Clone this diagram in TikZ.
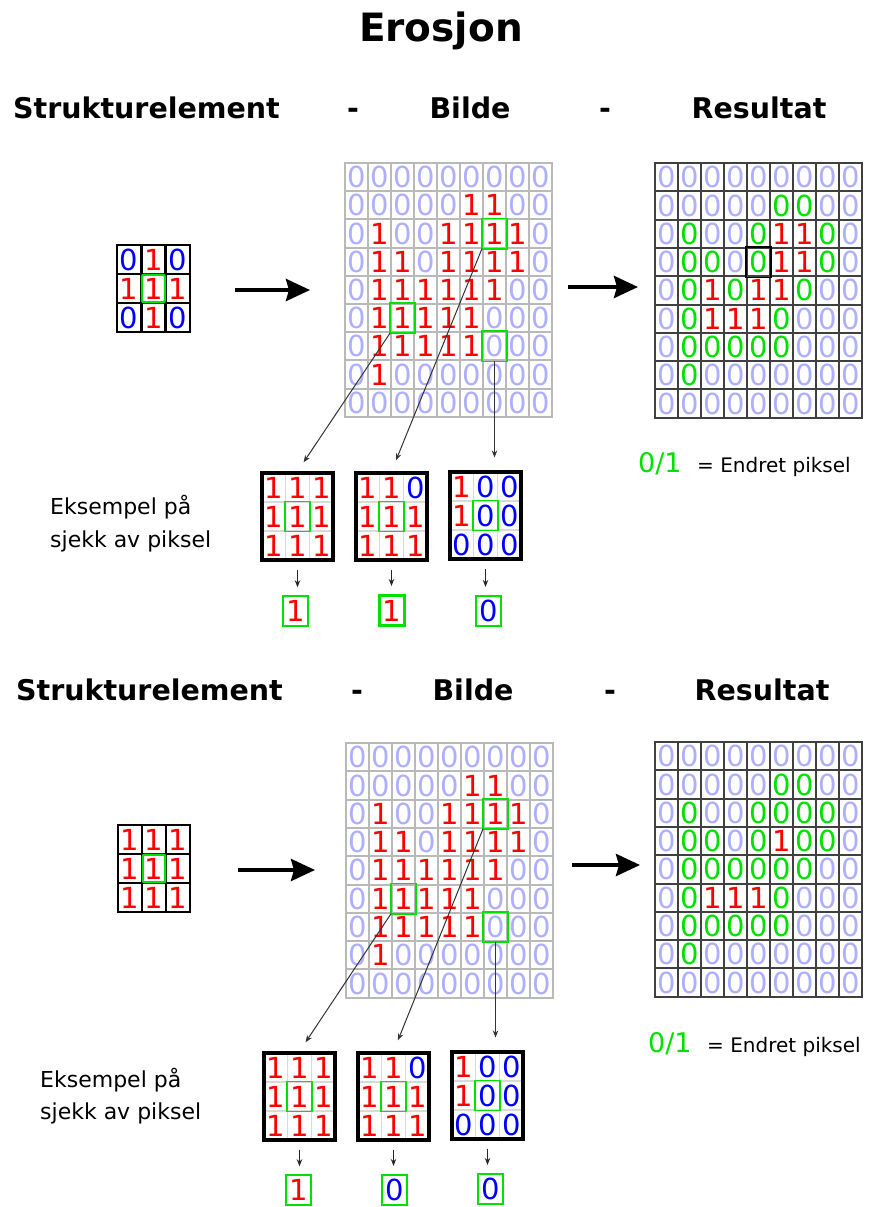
\documentclass[tikz,border=0pt]{standalone}
\usepackage{fontspec}
\setmainfont{DejaVu Sans}
\usetikzlibrary{arrows.meta}
\definecolor{lblue}{RGB}{175,175,255}
\definecolor{mygreen}{RGB}{0,225,0}
\definecolor{myred}{RGB}{255,0,0}
\definecolor{myblue}{RGB}{0,0,255}
\newcommand\mydigfont{\fontsize{29}{29}\selectfont}
\def\cvb{\color{lblue}0}
\def\cvr{\color{myred}1}
\def\cvg{\color{mygreen}0}
\def\cvB{\color{myblue}0}
% #1 name, #2 x0, #3 y0, #4 cell width, #5 cell height, #6 style, #7 data
\newcommand\mygrid[7]{%
  \foreach \rowdata [count=\i] in {#7} {
    \foreach \cc [count=\j] in \rowdata {
      \node[#6, minimum width=#4pt, minimum height=#5pt] (#1-\i-\j)
        at ({#2+(\j-0.5)*#4},{#3+(\i-0.5)*#5}) {\csname cv\cc\endcsname};
    }
  }%
}
\begin{document}
\begin{tikzpicture}[x=1pt,y=-1pt,
  imgcell/.style={draw=gray!55, line width=2pt, inner sep=0pt, font=\mydigfont},
  rescell/.style={draw=black!75, line width=2pt, inner sep=0pt, font=\mydigfont},
  secell/.style={draw=black, line width=2.6pt, inner sep=0pt, font=\mydigfont},
  excell/.style={draw=gray!30, line width=1.2pt, inner sep=0pt, font=\mydigfont},
  exframe/.style={draw=black, line width=3.2pt, inner sep=0pt, minimum width=71pt, minimum height=87pt},
  resbox/.style={draw=mygreen, line width=1.5pt, inner sep=0pt, minimum width=25pt, minimum height=30pt, font=\mydigfont},
  hl/.style={draw=mygreen, line width=1.8pt},
  ptr/.style={draw=black!80, line width=1pt, -{Stealth[length=7pt,width=5.5pt]}},
  smallarr/.style={draw=black!85, line width=1pt, -{Stealth[length=7pt,width=5.5pt]}},
  bigarr/.style={line width=4pt, -{Stealth[length=24pt,width=22pt,inset=3pt]}},
  hdr/.style={font=\fontsize{28.5}{30}\selectfont\bfseries, anchor=base, inner sep=0pt},
  lbl/.style={font=\fontsize{22}{22}\selectfont, anchor=base west, inner sep=0pt},
  leg/.style={font=\fontsize{20}{20}\selectfont, anchor=base west, inner sep=0pt},
  legnum/.style={font=\fontsize{27}{27}\selectfont, anchor=base west, inner sep=0pt, text=mygreen}
]
\fill[white] (0,0) rectangle (883,1207);
\useasboundingbox (0,0) rectangle (883,1207);

% ---------- titles ----------
\node[font=\fontsize{39}{40}\selectfont\bfseries, anchor=base, inner sep=0pt] (title) at (441,42) {Erosjon};
\node[hdr] (h1a) at (146.5,118) {Strukturelement};
\node[hdr] (h1b) at (353,118) {-};
\node[hdr] (h1c) at (470,118) {Bilde};
\node[hdr] (h1d) at (605,118) {-};
\node[hdr] (h1e) at (759,118) {Resultat};
\node[hdr] (h2a) at (149.5,700) {Strukturelement};
\node[hdr] (h2b) at (357,700) {-};
\node[hdr] (h2c) at (473,700) {Bilde};
\node[hdr] (h2d) at (610,700) {-};
\node[hdr] (h2e) at (762,700) {Resultat};

% ================= TOP PART =================
\mygrid{se1}{117}{245}{24.3}{29}{secell}{{B,r,B},{r,r,r},{B,r,B}}
\draw[mygreen, line width=2.2pt, rounded corners=2pt] ([xshift=2pt,yshift=-2pt]se1-2-2.north west) rectangle ([xshift=-2pt,yshift=2pt]se1-2-2.south east);

\mygrid{img1}{345}{163}{23}{28.2}{imgcell}{
{b,b,b,b,b,b,b,b,b},
{b,b,b,b,b,r,r,b,b},
{b,r,b,b,r,r,r,r,b},
{b,r,r,b,r,r,r,r,b},
{b,r,r,r,r,r,r,b,b},
{b,r,r,r,r,r,b,b,b},
{b,r,r,r,r,r,b,b,b},
{b,r,b,b,b,b,b,b,b},
{b,b,b,b,b,b,b,b,b}}
\draw[hl] (img1-3-7.north west) rectangle (img1-3-7.south east);
\draw[hl] (img1-6-3.north west) rectangle (img1-6-3.south east);
\draw[hl] (img1-7-7.north west) rectangle (img1-7-7.south east);

\mygrid{res1}{655}{163}{23}{28.3}{rescell}{
{b,b,b,b,b,b,b,b,b},
{b,b,b,b,b,g,g,b,b},
{b,g,b,b,g,r,r,g,b},
{b,g,g,b,g,r,r,g,b},
{b,g,r,g,r,r,g,b,b},
{b,g,r,r,r,g,b,b,b},
{b,g,g,g,g,g,b,b,b},
{b,g,b,b,b,b,b,b,b},
{b,b,b,b,b,b,b,b,b}}
\draw[black, line width=1.4pt] (res1-4-5.north west) rectangle (res1-4-5.south east);

\coordinate (a1s) at (235,290);
\coordinate (a1e) at (310,290);
\draw[bigarr] (a1s) -- (a1e);
\coordinate (a2s) at (568,287);
\coordinate (a2e) at (638,287);
\draw[bigarr] (a2s) -- (a2e);

% examples
\mygrid{ex1a-c}{262}{473}{23.7}{29}{excell}{{r,r,r},{r,r,r},{r,r,r}}
\node[exframe] (ex1a) at (297.5,516.5) {};
\draw[mygreen, line width=1.4pt] (ex1a-c-2-2.north west) rectangle (ex1a-c-2-2.south east);
\mygrid{ex1b-c}{356}{473}{23.7}{29}{excell}{{r,r,B},{r,r,r},{r,r,r}}
\node[exframe] (ex1b) at (391.5,516.5) {};
\draw[mygreen, line width=1.4pt] (ex1b-c-2-2.north west) rectangle (ex1b-c-2-2.south east);
\mygrid{ex1c-c}{450}{472}{23.7}{29}{excell}{{r,B,B},{r,B,B},{B,B,B}}
\node[exframe] (ex1c) at (485.5,515.5) {};
\draw[mygreen, line width=1.4pt] (ex1c-c-2-2.north west) rectangle (ex1c-c-2-2.south east);

\node[resbox] (r1a) at (295.5,611) {\color{myred}1};
\node[resbox, line width=3pt] (r1b) at (391.5,610.5) {\color{myred}1};
\node[resbox, line width=2.2pt] (r1c) at (488.5,611) {\color{myblue}0};
\draw[smallarr, shorten <=8pt, shorten >=8pt] (ex1a) -- (ex1a |- r1a.north);
\draw[smallarr, shorten <=8pt, shorten >=8pt] (ex1b) -- (ex1b |- r1b.north);
\draw[smallarr, shorten <=8pt, shorten >=8pt] (ex1c) -- (ex1c |- r1c.north);

\draw[ptr, shorten >=11pt] (img1-6-3.south west) -- (ex1a.north);
\draw[ptr, shorten >=12pt] (img1-3-7.south west) -- (ex1b.north);
\draw[ptr, shorten >=13pt] (img1-7-7.south) -- (img1-7-7.south |- ex1c.north);

\node[lbl] (t1a) at (50,514) {Eksempel på};
\node[lbl] (t1b) at (50,547) {sjekk av piksel};
\node[legnum] (l1a) at (638,472) {0/1};
\node[leg] (l1b) at (697,472) {= Endret piksel};

% ================= BOTTOM PART =================
\mygrid{se2}{118}{825}{24}{29}{secell}{{r,r,r},{r,r,r},{r,r,r}}
\draw[mygreen, line width=2.2pt, rounded corners=2pt] ([xshift=2pt,yshift=-2pt]se2-2-2.north west) rectangle ([xshift=-2pt,yshift=2pt]se2-2-2.south east);

\mygrid{img2}{346}{743}{23}{28.3}{imgcell}{
{b,b,b,b,b,b,b,b,b},
{b,b,b,b,b,r,r,b,b},
{b,r,b,b,r,r,r,r,b},
{b,r,r,b,r,r,r,r,b},
{b,r,r,r,r,r,r,b,b},
{b,r,r,r,r,r,b,b,b},
{b,r,r,r,r,r,b,b,b},
{b,r,b,b,b,b,b,b,b},
{b,b,b,b,b,b,b,b,b}}
\draw[hl] (img2-3-7.north west) rectangle (img2-3-7.south east);
\draw[hl] (img2-6-3.north west) rectangle (img2-6-3.south east);
\draw[hl] (img2-7-7.north west) rectangle (img2-7-7.south east);

\mygrid{res2}{655}{742}{23}{28.3}{rescell}{
{b,b,b,b,b,b,b,b,b},
{b,b,b,b,b,g,g,b,b},
{b,g,b,b,g,g,g,g,b},
{b,g,g,b,g,r,g,g,b},
{b,g,g,g,g,g,g,b,b},
{b,g,r,r,r,g,b,b,b},
{b,g,g,g,g,g,b,b,b},
{b,g,b,b,b,b,b,b,b},
{b,b,b,b,b,b,b,b,b}}

\coordinate (b1s) at (238,870);
\coordinate (b1e) at (315,870);
\draw[bigarr] (b1s) -- (b1e);
\coordinate (b2s) at (572,865);
\coordinate (b2e) at (640,865);
\draw[bigarr] (b2s) -- (b2e);

\mygrid{ex2a-c}{264}{1053}{23.7}{29}{excell}{{r,r,r},{r,r,r},{r,r,r}}
\node[exframe] (ex2a) at (299.5,1096.5) {};
\draw[mygreen, line width=1.4pt] (ex2a-c-2-2.north west) rectangle (ex2a-c-2-2.south east);
\mygrid{ex2b-c}{358}{1053}{23.7}{29}{excell}{{r,r,B},{r,r,r},{r,r,r}}
\node[exframe] (ex2b) at (393.5,1096.5) {};
\draw[mygreen, line width=1.4pt] (ex2b-c-2-2.north west) rectangle (ex2b-c-2-2.south east);
\mygrid{ex2c-c}{452}{1052}{23.7}{29}{excell}{{r,B,B},{r,B,B},{B,B,B}}
\node[exframe] (ex2c) at (487.5,1095.5) {};
\draw[mygreen, line width=1.4pt] (ex2c-c-2-2.north west) rectangle (ex2c-c-2-2.south east);

\node[resbox] (r2a) at (298.5,1190) {\color{myred}1};
\node[resbox, line width=2.2pt] (r2b) at (394.5,1190) {\color{myblue}0};
\node[resbox, line width=2.2pt] (r2c) at (490.5,1189) {\color{myblue}0};
\draw[smallarr, shorten <=8pt, shorten >=8pt] (ex2a) -- (ex2a |- r2a.north);
\draw[smallarr, shorten <=8pt, shorten >=8pt] (ex2b) -- (ex2b |- r2b.north);
\draw[smallarr, shorten <=8pt, shorten >=8pt] (ex2c) -- (ex2c |- r2c.north);

\draw[ptr, shorten >=11pt] (img2-6-3.south west) -- (ex2a.north);
\draw[ptr, shorten >=12pt] (img2-3-7.south west) -- (ex2b.north);
\draw[ptr, shorten >=13pt] (img2-7-7.south) -- (img2-7-7.south |- ex2c.north);

\node[lbl] (t2a) at (40,1087) {Eksempel på};
\node[lbl] (t2b) at (40,1119) {sjekk av piksel};
\node[legnum] (l2a) at (648,1052) {0/1};
\node[leg] (l2b) at (707,1052) {= Endret piksel};
\end{tikzpicture}
\end{document}
